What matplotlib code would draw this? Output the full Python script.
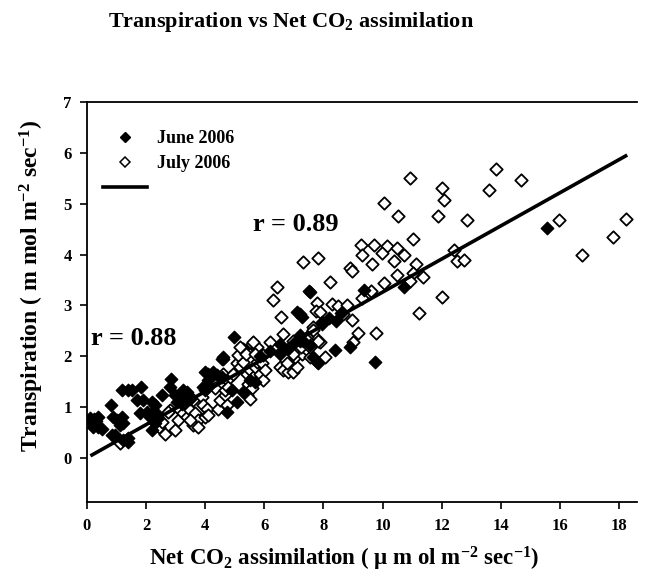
import matplotlib
matplotlib.use("Agg")
import matplotlib.pyplot as plt
from matplotlib.lines import Line2D
import numpy as np

plt.rcParams['font.family'] = ['Liberation Serif', 'DejaVu Serif']
plt.rcParams['font.weight'] = 'bold'
plt.rcParams['mathtext.default'] = 'regular'

# June 2006 measurements (net CO2 assimilation, transpiration)
june_x = [0.10, 0.16, 0.24, 0.38, 0.38, 0.50, 0.30, 0.21,
          0.81, 0.89, 1.00, 1.17, 1.23, 1.12, 0.86, 1.40, 0.95, 1.23, 1.40,
          1.17, 1.40, 1.51, 1.82, 1.68, 1.90, 1.79,
          2.19, 2.30, 2.35, 2.24, 2.13, 2.30, 2.19, 2.41, 2.02,
          2.53, 2.83, 2.81, 2.98, 3.15, 3.26, 3.03, 3.20, 3.26, 3.37, 3.48,
          3.99, 4.10, 3.99, 4.10, 4.22, 4.27, 4.61, 4.39, 4.56, 4.98, 4.61,
          5.68, 5.51, 5.29, 5.06, 4.90, 4.73, 4.10, 3.93, 4.05, 4.56,
          6.52, 7.20, 7.54, 7.77, 7.66, 7.82,
          7.51, 7.09, 7.26, 7.96, 8.42, 8.39, 7.20, 8.90, 7.94,
          6.53, 6.81, 7.04, 7.32, 5.85, 6.20, 8.20, 8.60,
          7.54, 9.37, 10.73, 7.20, 9.75, 15.55]
june_y = [0.78, 0.68, 0.76, 0.81, 0.61, 0.58, 0.72, 0.61,
          1.04, 0.80, 0.75, 0.80, 0.68, 0.65, 0.45, 0.32, 0.45, 0.35, 0.39,
          1.33, 1.33, 1.33, 1.40, 1.15, 1.14, 0.88,
          1.10, 1.04, 0.88, 0.91, 0.81, 0.68, 0.55, 0.78, 0.91,
          1.24, 1.56, 1.40, 1.24, 1.20, 1.27, 1.10, 1.07, 1.33, 1.30, 1.17,
          1.33, 1.40, 1.69, 1.66, 1.63, 1.69, 1.95, 1.63, 1.60, 2.38, 1.99,
          1.50, 1.53, 1.30, 1.10, 1.33, 0.91, 1.53, 1.40, 1.46, 1.94,
          2.04, 2.31, 2.22, 1.89, 1.99, 1.86,
          3.29, 2.87, 2.77, 2.64, 2.70, 2.12, 2.41, 2.18, 2.67,
          2.25, 2.15, 2.28, 2.31, 2.00, 2.10, 2.75, 2.85,
          3.26, 3.30, 3.36, 2.84, 1.88, 4.52]

# July 2006 measurements (net CO2 assimilation, transpiration)
july_x = [1.12, 2.45, 2.55, 2.64, 2.81, 2.75, 2.98, 3.09, 3.15, 3.26, 3.37,
          3.48, 3.60, 3.48, 3.65, 3.76, 3.60, 3.48, 3.76, 3.88, 3.93, 4.05,
          3.99, 4.10, 4.39, 4.50, 4.33, 4.44, 4.50, 4.67, 4.73, 4.67, 4.78,
          4.61, 4.84, 4.95, 5.06, 5.18, 5.29, 5.12, 5.29, 5.18, 5.40, 5.51,
          5.63, 5.68, 5.74, 5.46, 5.57, 5.40, 5.51, 5.85, 5.91, 5.96, 6.02,
          6.19, 6.64, 5.57, 5.74, 6.53, 6.64, 6.81, 6.98, 7.09, 6.76, 7.04,
          7.26, 7.43, 7.54, 7.66, 7.88, 8.05, 6.98, 7.15,
          5.63, 5.38, 5.68, 5.94, 7.24, 6.98, 7.54, 6.42, 6.28, 6.56, 7.66,
          7.43,
          7.32, 7.80, 8.22, 7.79, 7.75, 7.88, 8.28, 8.50, 8.79, 8.67, 8.95,
          9.18, 9.01, 7.66, 7.82, 7.43,
          8.88, 8.95, 9.26, 9.71, 10.14, 10.50, 9.29, 9.97, 10.72, 9.63,
          10.39, 11.13, 10.50, 11.04, 11.36, 10.05, 10.93, 9.60, 9.29, 9.78,
          11.24, 12.00, 12.42, 12.53, 12.75, 11.04,
          10.93, 13.83, 14.68, 12.00, 13.60, 12.09, 10.06, 10.53, 11.88,
          12.84, 15.97, 18.22, 17.80, 16.73]
july_y = [0.29, 0.62, 0.70, 0.48, 0.94, 0.91, 0.55, 0.75, 0.94, 0.88, 0.81,
          1.20, 1.14, 0.94, 0.88, 0.75, 0.65, 0.75, 0.61, 1.20, 1.04, 0.97,
          0.81, 0.84, 1.50, 1.43, 1.37, 0.97, 1.14, 1.24, 1.04, 1.33, 1.40,
          1.66, 1.60, 1.66, 1.86, 1.79, 1.89, 2.02, 2.15, 2.18, 1.66, 1.73,
          1.60, 1.79, 1.89, 1.46, 1.37, 1.24, 1.17, 1.66, 1.86, 1.53, 1.73,
          2.28, 2.44, 2.25, 2.18, 1.79, 1.73, 1.69, 1.69, 1.79, 1.86, 1.99,
          2.05, 2.12, 1.99, 2.41, 2.28, 1.99, 2.31, 2.28,
          2.28, 2.05, 2.05, 2.02, 2.18, 2.05, 2.18, 3.37, 3.11, 2.78, 2.58,
          2.38,
          3.85, 3.94, 3.46, 3.05, 2.89, 2.87, 3.03, 2.99, 3.01, 2.84, 2.71,
          2.46, 2.29, 2.51, 2.31, 2.33,
          3.74, 3.68, 4.19, 4.19, 4.16, 4.13, 3.99, 4.03, 4.00, 3.82,
          3.88, 3.82, 3.59, 3.63, 3.56, 3.44, 3.49, 3.28, 3.14, 2.46,
          2.85, 3.16, 4.10, 3.88, 3.90, 4.31,
          5.50, 5.68, 5.46, 5.31, 5.27, 5.07, 5.01, 4.75, 4.75,
          4.69, 4.69, 4.71, 4.34, 4.00]

# Fitted regression line
fit_intercept = 0.005
fit_slope = 0.3258
fit_range = [0.17, 18.22]

fig = plt.figure(figsize=(6.69, 5.80), dpi=100)
ax = fig.add_axes([0.130, 0.134, 0.822, 0.690])

ax.scatter(july_x, july_y, marker='D', s=40, facecolors='white',
           edgecolors='black', linewidths=1.3, zorder=3)
ax.scatter(june_x, june_y, marker='D', s=40, facecolors='black',
           edgecolors='black', linewidths=1.0, zorder=4)

fx = np.array(fit_range)
ax.plot(fx, fit_intercept + fit_slope * fx, color='black', lw=2.6, zorder=5)

ax.set_xlim(0, 18.6)
ax.set_ylim(-0.87, 7)
ax.set_xticks(range(0, 19, 2))
ax.set_yticks(range(0, 8))
ax.tick_params(direction='out', length=5, width=1.2, labelsize=12, pad=6)
for lab in ax.get_xticklabels() + ax.get_yticklabels():
    lab.set_fontweight('bold')
ax.spines['right'].set_visible(False)
for s in ('left', 'bottom', 'top'):
    ax.spines[s].set_linewidth(1.3)

ax.set_xlabel('Net CO$_2$ assimilation ( \u00b5 m ol m$^{-2}$ sec$^{-1}$)',
              fontsize=16.5, fontweight='bold')
ax.set_ylabel('Transpiration ( m mol m$^{-2}$ sec$^{-1}$)',
              fontsize=17, fontweight='bold')
ax.xaxis.set_label_coords(8.7 / 18.6, -0.105)
ax.yaxis.set_label_coords(-0.075, 0.54)

fig.text(0.435, 0.962, 'Transpiration vs Net CO$_2$ assimilation',
         ha='center', va='center', fontsize=16, fontweight='bold')

ax.text(0.12, 2.35, 'r = 0.88', fontsize=19, fontweight='bold', va='center')
ax.text(5.6, 4.6, 'r = 0.89', fontsize=19, fontweight='bold', va='center')

handles = [Line2D([], [], marker='D', ls='none', mfc='black', mec='black', ms=5.5),
           Line2D([], [], marker='D', ls='none', mfc='white', mec='black', ms=5.5, mew=1.1),
           Line2D([], [], color='black', lw=2.6)]
ax.legend(handles, ['June 2006', 'July 2006', ''], loc='upper left',
          bbox_to_anchor=(0.0, 0.97), frameon=False, handlelength=2.45,
          labelspacing=0.45, handletextpad=0.55,
          prop={'family': 'Liberation Serif', 'weight': 'bold', 'size': 13})

fig.savefig('out.png', dpi=100)
